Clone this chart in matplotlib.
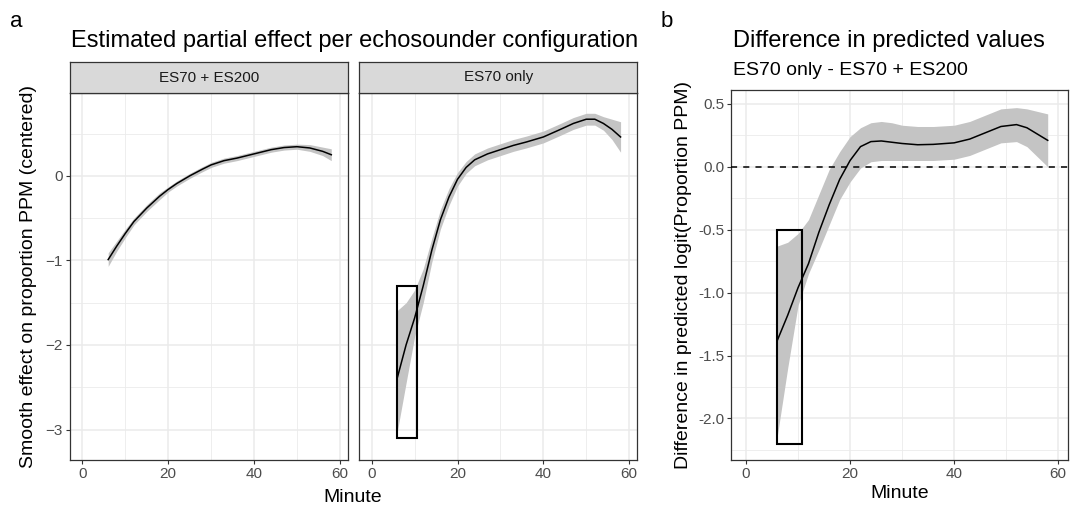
import numpy as np
import matplotlib
matplotlib.use("Agg")
import matplotlib.pyplot as plt
from matplotlib.patches import Rectangle

plt.rcParams['font.family'] = ['Liberation Sans', 'DejaVu Sans']

# --- data --------------------------------------------------------------
# panel a, facet 1: ES70 + ES200
minute_both = [6, 8, 10, 12, 15, 18, 20, 22, 25, 28, 30, 33, 36, 40, 44, 47, 50, 53, 56, 58]
fit_both = [-0.99, -0.83, -0.68, -0.54, -0.38, -0.24, -0.16, -0.09, 0.0, 0.08,
            0.13, 0.18, 0.21, 0.26, 0.31, 0.335, 0.345, 0.33, 0.29, 0.25]
lo_both = [-1.07, -0.89, -0.73, -0.58, -0.42, -0.28, -0.19, -0.12, -0.03, 0.05,
           0.10, 0.15, 0.18, 0.23, 0.28, 0.305, 0.315, 0.29, 0.24, 0.18]
hi_both = [-0.91, -0.77, -0.63, -0.50, -0.34, -0.20, -0.13, -0.06, 0.03, 0.11,
           0.16, 0.21, 0.24, 0.29, 0.34, 0.365, 0.375, 0.37, 0.34, 0.32]

# panel a, facet 2: ES70 only
minute_es70 = [6, 8, 10, 12, 14, 16, 18, 20, 22, 24, 27, 30, 33, 36, 40, 44, 47, 50, 52, 54, 56, 58]
fit_es70 = [-2.38, -2.0, -1.68, -1.3, -0.88, -0.52, -0.25, -0.04, 0.1, 0.19, 0.26,
            0.31, 0.36, 0.40, 0.46, 0.55, 0.62, 0.67, 0.67, 0.62, 0.55, 0.46]
lo_es70 = [-3.01, -2.45, -1.9, -1.5, -1.02, -0.63, -0.35, -0.12, 0.03, 0.12, 0.19,
           0.24, 0.29, 0.33, 0.39, 0.48, 0.55, 0.60, 0.60, 0.54, 0.43, 0.28]
hi_es70 = [-1.59, -1.5, -1.35, -1.1, -0.74, -0.4, -0.15, 0.04, 0.17, 0.26, 0.33,
           0.38, 0.43, 0.47, 0.53, 0.62, 0.69, 0.74, 0.74, 0.70, 0.67, 0.64]

# panel b: difference ES70 only - ES70 + ES200
minute_diff = [6, 8, 10, 12, 14, 16, 18, 20, 22, 24, 26, 28, 30, 33, 36, 40, 43, 46, 49, 52, 54, 56, 58]
fit_diff = [-1.38, -1.18, -0.96, -0.77, -0.52, -0.3, -0.1, 0.05, 0.16, 0.2, 0.205, 0.195,
            0.185, 0.175, 0.178, 0.19, 0.22, 0.27, 0.32, 0.335, 0.31, 0.26, 0.21]
lo_diff = [-2.14, -1.6, -1.1, -0.85, -0.66, -0.46, -0.26, -0.12, -0.01, 0.04, 0.05, 0.05,
           0.05, 0.05, 0.05, 0.06, 0.09, 0.14, 0.19, 0.2, 0.16, 0.08, 0.0]
hi_diff = [-0.63, -0.6, -0.53, -0.42, -0.22, -0.02, 0.12, 0.24, 0.31, 0.35, 0.36, 0.35,
           0.33, 0.32, 0.32, 0.33, 0.36, 0.41, 0.46, 0.47, 0.46, 0.44, 0.42]

# highlighted windows (minute range, y range)
box_es70 = (6.0, 10.6, -3.1, -1.3)
box_diff = (6.0, 10.7, -2.2, -0.5)

facet_labels = ['ES70 + ES200', 'ES70 only']

BAND = '#c4c4c4'
GRID = '#ebebeb'
FRAME = '#333333'
TICKTXT = '#4d4d4d'


def style_bw(ax, xmajor, xminor, ymajor, yminor):
    """Rough ggplot theme_bw look."""
    ax.set_xticks(xmajor)
    ax.set_xticks(xminor, minor=True)
    ax.set_yticks(ymajor)
    ax.set_yticks(yminor, minor=True)
    ax.grid(True, which='major', color=GRID, lw=1.1, zorder=0)
    ax.grid(True, which='minor', color=GRID, lw=0.6, zorder=0)
    ax.set_axisbelow(True)
    for s in ax.spines.values():
        s.set_color(FRAME)
        s.set_linewidth(0.9)
    ax.tick_params(which='major', length=3, width=0.8, color=FRAME,
                   labelsize=11, labelcolor=TICKTXT, pad=2)
    ax.tick_params(which='minor', length=0)


def add_strip(fig, ax, text):
    pos = ax.get_position()
    sax = fig.add_axes([pos.x0, pos.y1, pos.width, 31 / 507])
    sax.set_facecolor('#d9d9d9')
    sax.set_xticks([])
    sax.set_yticks([])
    for s in sax.spines.values():
        s.set_color(FRAME)
        s.set_linewidth(0.9)
    sax.text(0.5, 0.5, text, ha='center', va='center', fontsize=11,
             color='#1a1a1a', transform=sax.transAxes)


fig = plt.figure(figsize=(10.7, 5.07), dpi=100)

ax1 = fig.add_axes([70 / 1070, 47 / 507, 278 / 1070, 367 / 507])
ax2 = fig.add_axes([359.3 / 1070, 47 / 507, 278 / 1070, 367 / 507])
axb = fig.add_axes([731 / 1070, 47 / 507, 337 / 1070, 370 / 507])

xlim = (-2.9, 61.9)
for ax in (ax1, ax2):
    ax.set_xlim(*xlim)
    ax.set_ylim(-3.36, 0.98)
    style_bw(ax, [0, 20, 40, 60], [10, 30, 50], [-3, -2, -1, 0],
             [-2.5, -1.5, -0.5, 0.5])

ax1.fill_between(minute_both, lo_both, hi_both, color=BAND, lw=0, zorder=2)
ax1.plot(minute_both, fit_both, color='black', lw=1.1, zorder=3)

ax2.fill_between(minute_es70, lo_es70, hi_es70, color=BAND, lw=0, zorder=2)
ax2.plot(minute_es70, fit_es70, color='black', lw=1.1, zorder=3)
x0, x1, y0, y1 = box_es70
ax2.add_patch(Rectangle((x0, y0), x1 - x0, y1 - y0, fill=False,
                        ec='black', lw=1.5, zorder=4))
ax2.tick_params(axis='y', labelleft=False, length=0)

add_strip(fig, ax1, facet_labels[0])
add_strip(fig, ax2, facet_labels[1])

ax1.set_ylabel('Smooth effect on proportion PPM (centered)', fontsize=14,
               labelpad=6)

# panel b
axb.set_xlim(*xlim)
axb.set_ylim(-2.33, 0.61)
style_bw(axb, [0, 20, 40, 60], [10, 30, 50],
         [-2.0, -1.5, -1.0, -0.5, 0.0, 0.5],
         [-2.25, -1.75, -1.25, -0.75, -0.25, 0.25])
axb.set_yticklabels(['-2.0', '-1.5', '-1.0', '-0.5', '0.0', '0.5'])
axb.fill_between(minute_diff, lo_diff, hi_diff, color=BAND, lw=0, zorder=2)
axb.axhline(0, color='black', lw=1.1, ls=(0, (4, 4)), zorder=3)
axb.plot(minute_diff, fit_diff, color='black', lw=1.1, zorder=3)
x0, x1, y0, y1 = box_diff
axb.add_patch(Rectangle((x0, y0), x1 - x0, y1 - y0, fill=False,
                        ec='black', lw=1.5, zorder=4))
axb.set_ylabel('Difference in predicted logit(Proportion PPM)', fontsize=14,
               labelpad=4)
axb.set_xlabel('Minute', fontsize=14, labelpad=3)

# shared x label for panel a
fig.text(353 / 1070, 1 - 502 / 507, 'Minute', ha='center', va='baseline',
         fontsize=14)

# titles and panel letters
fig.text(10 / 1070, 1 - 27 / 507, 'a', fontsize=16, va='baseline')
fig.text(661 / 1070, 1 - 27 / 507, 'b', fontsize=16, va='baseline')
fig.text(355 / 1070, 1 - 47 / 507,
         'Estimated partial effect per echosounder configuration',
         ha='center', va='baseline', fontsize=17)
fig.text(733 / 1070, 1 - 47 / 507, 'Difference in predicted values',
         ha='left', va='baseline', fontsize=17)
fig.text(733 / 1070, 1 - 75 / 507, 'ES70 only - ES70 + ES200',
         ha='left', va='baseline', fontsize=14)

fig.savefig('out.png', dpi=100)
